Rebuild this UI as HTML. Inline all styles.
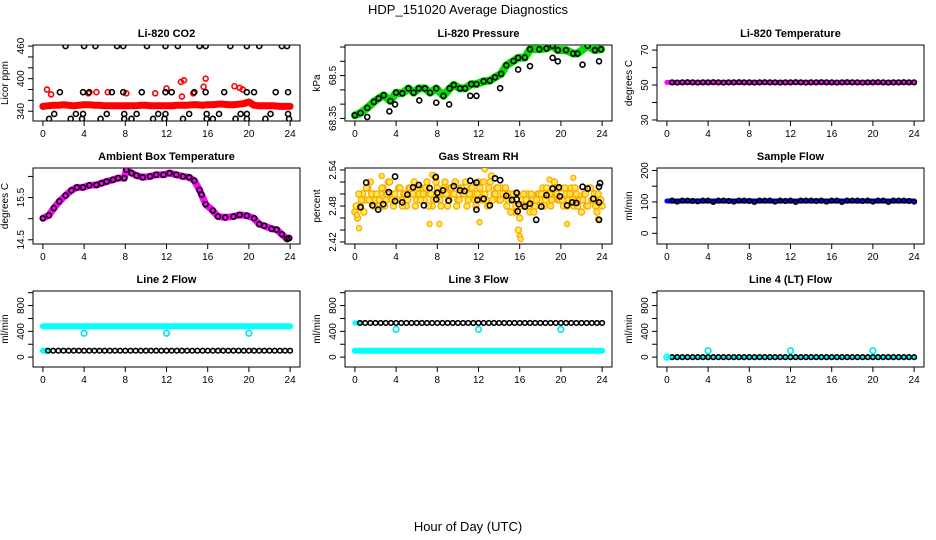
<!DOCTYPE html>
<html><head><meta charset="utf-8"><style>
html,body{margin:0;padding:0;background:#fff;}
svg{display:block;font-family:"Liberation Sans",sans-serif;}
</style></head><body>
<svg id="chart" width="936" height="540" viewBox="0 0 936 540">
<text x="468" y="14" text-anchor="middle" font-size="13">HDP_151020  Average Diagnostics</text>
<text x="468" y="531" text-anchor="middle" font-size="13">Hour of Day (UTC)</text>
</svg>
<script>
// ---------- data ----------
const hourTicks = [0,4,8,12,16,20,24];
// CO2
const co2RedVals = [349,350,351,351,352,351,350,351,352,352,351,351,350,350,350,350,350,350,350,351,351,350,350,350,350,350,351,351,351,352,352,351,352,352,353,353,352,352,353,354,357,351,350,350,350,350,349,349,349];
const co2RedOutHours = [0.4,0.8,4.4,5.2,6.3,8.1,10.9,12.0,13.4,13.7,13.5,14.6,15.8,15.6,18.6,19.1,19.4];
const co2RedOutVals = [380,371,373,375,375,373,373,382,394,397,367,373,400,385,386,383,380];
const co2BlackHours = [2.2,4.0,5.1,7.2,7.8,10.1,11.9,13.1,15.2,15.8,18.2,19.8,21.0,23.2,23.7, 1.65,3.9,4.5,6.7,7.8,9.6,11.9,12.5,14.7,15.8,17.6,19.8,20.5,22.6,23.8, 1.1,3.2,3.9,6.2,7.9,9.1,11.2,11.9,14.2,15.9,17.1,19.2,19.8,22.1,23.8, 0.6,2.7,3.8,5.6,7.9,8.6,10.7,11.8,13.6,15.9,16.5,18.7,19.8,21.6,23.9];
const co2BlackVals = [460,460,460,460,460,460,460,460,460,460,460,460,460,460,460, 375,375,375,375,375,375,375,375,375,375,375,375,375,375,375, 335,335,335,335,335,335,335,335,335,335,335,335,335,335,335, 326,326,326,326,326,326,326,326,326,326,326,326,326,326,326];
// Pressure
const presHours = [0,0.55,1.2,1.84,2.3,2.8,3.45,4.0,4.6,5.2,5.7,6.2,6.8,7.3,7.9,8.6,9.2,9.6,10.2,10.7,11.3,11.8,12.5,13.1,13.6,14.2,14.7,15.4,15.85,16.5,17.0,17.9,18.6,19.2,19.7,20.5,21.2,21.6,22.6,23.3,23.9];
const presVals = [68.361,68.369,68.387,68.408,68.42,68.431,68.411,68.44,68.438,68.455,68.44,68.455,68.455,68.44,68.455,68.429,68.455,68.467,68.455,68.455,68.47,68.47,68.48,68.482,68.494,68.506,68.536,68.551,68.562,68.563,68.592,68.592,68.595,68.604,68.589,68.589,68.577,68.577,68.604,68.589,68.592];
const presOutHours = [1.2,3.35,3.9,6.25,7.9,9.15,11.2,11.8,14.1,15.85,17.0,19.2,19.7,22.1,23.7];
const presOutVals = [68.355,68.375,68.399,68.413,68.405,68.399,68.429,68.429,68.456,68.521,68.533,68.562,68.55,68.538,68.55];
// Li-820 temperature
const tempLineHours = [0,6,12,18,24];
const tempLineVals = [51.5,51.5,51.5,51.5,51.5];
const tempBlackVals = [51.5,51.4,51.5,51.6,51.5,51.4,51.5,51.5,51.6,51.5,51.4,51.5,51.5,51.6,51.5,51.5,51.4,51.5,51.6,51.5,51.5,51.4,51.5,51.5,51.6,51.5,51.4,51.5,51.5,51.6,51.5,51.5,51.4,51.5,51.6,51.5,51.5,51.4,51.5,51.5,51.6,51.5,51.4,51.5,51.5,51.6,51.5,51.5];
// Ambient box temperature
const ambHours = [0,0.58,1.07,1.6,2.2,2.76,3.3,3.9,4.5,5.2,5.7,6.2,6.8,7.3,7.9,8.1,8.6,9.1,9.7,10.4,11.0,11.7,12.3,12.95,13.6,14.2,14.7,15.2,15.4,15.8,16.5,17.0,17.7,18.5,19.1,19.8,20.5,21.0,21.5,22.2,22.7,23.2,23.7,23.9];
const ambVals = [15.01,15.08,15.25,15.41,15.55,15.67,15.74,15.74,15.79,15.8,15.84,15.88,15.92,15.96,15.96,16.16,16.08,16.02,15.98,16.0,16.04,16.04,16.08,16.04,16.0,15.98,15.9,15.68,15.57,15.34,15.19,15.05,15.03,15.05,15.09,15.07,15.01,14.87,14.83,14.76,14.74,14.63,14.52,14.54];
// Gas stream RH
const rhOrangeA = [2.47,2.46,2.48,2.50,2.49,2.51,2.52,2.50,2.49, 2.48,2.50,2.51,2.49,2.52,2.50,2.48,2.49, 2.51,2.49,2.50,2.48,2.51,2.50,2.52,2.49, 2.50,2.51,2.49,2.52,2.50,2.48,2.53,2.51, 2.49,2.50,2.52,2.48,2.51,2.50,2.52,2.49, 2.51,2.50,2.52,2.49,2.51,2.50,2.48,2.52, 2.50,2.52,2.49,2.51,2.53,2.50,2.51,2.49, 2.51,2.50,2.48,2.50,2.49,2.47,2.50,2.46, 2.49,2.48,2.50,2.47,2.49,2.48,2.50,2.49, 2.51,2.49,2.50,2.48,2.51,2.50,2.49,2.51, 2.48,2.50,2.49,2.51,2.48,2.50,2.49,2.47, 2.50,2.48,2.51,2.49,2.50,2.47,2.49,2.48];
const rhOrangeB = [2.48,2.50,2.49,2.47,2.51,2.49,2.50,2.48, 2.50,2.49,2.51,2.48,2.50,2.52,2.49,2.50, 2.49,2.51,2.48,2.50,2.49,2.51,2.50,2.48, 2.51,2.49,2.50,2.51,2.48,2.50,2.49,2.52, 2.50,2.48,2.51,2.50,2.49,2.51,2.50,2.48, 2.49,2.51,2.50,2.48,2.50,2.51,2.49,2.50, 2.51,2.49,2.50,2.48,2.52,2.49,2.50,2.51, 2.49,2.50,2.51,2.49,2.47,2.50,2.48,2.44, 2.48,2.50,2.49,2.48,2.50,2.47,2.49,2.50, 2.50,2.48,2.51,2.50,2.49,2.52,2.50,2.49, 2.49,2.51,2.48,2.50,2.49,2.51,2.48,2.49, 2.49,2.50,2.48,2.51,2.49,2.48,2.50,2.49];
const rhOrangeOutHours = [0.2,0.4,7.25,8.2,12.1,16.0,16.1,18.9,21.2,12.6,7.5,20.6,23.6,2.6];
const rhOrangeOutVals = [2.465,2.443,2.45,2.45,2.453,2.43,2.425,2.524,2.527,2.541,2.532,2.45,2.458,2.53];
const rhBlackHours = [0.55,1.1,1.7,2.26,2.75,3.3,3.9,3.9,4.6,5.1,5.65,6.2,6.7,7.25,7.85,7.9,8.0,8.55,9.1,9.6,10.2,10.65,11.2,11.8,11.8,11.9,12.5,13.1,13.6,14.1,14.7,15.25,15.7,15.7,15.8,15.9,16.5,17.0,17.6,18.1,18.6,19.2,19.8,19.9,20.6,21.1,21.5,22.1,22.6,23.15,23.7,23.8,23.7,23.7];
const rhBlackVals = [2.478,2.519,2.481,2.474,2.483,2.503,2.529,2.488,2.486,2.499,2.511,2.515,2.481,2.51,2.528,2.491,2.502,2.506,2.489,2.513,2.506,2.505,2.522,2.474,2.519,2.49,2.492,2.481,2.526,2.523,2.497,2.49,2.491,2.502,2.471,2.483,2.479,2.484,2.457,2.479,2.498,2.509,2.511,2.496,2.481,2.486,2.485,2.512,2.509,2.492,2.486,2.518,2.512,2.457];
// Sample flow
const sampleLineHours = [0,6,12,18,24];
const sampleLineVals = [103,103,103,103,103];
const sampleBlackVals = [104,101,104,104,103,102,104,104,100,104,104,103,101,104,104,103,100,104,104,104,101,104,103,104,100,104,104,104,103,104,101,104,104,100,104,104,104,103,104,101,104,104,100,104,104,104,103,101];
// Line flows
const line2CyanTop = [480,480,480,480,480];
const line2BlackVals = [100,100,100,100,100,100,100,100,100,100,100,100,100,100,100,100,100,100,100,100,100,100,100,100,100,100,100,100,100,100,100,100,100,100,100,100,100,100,100,100,100,100,100,100,100,100,100,100];
const line3CyanBottom = [100,100,100,100,100];
const line3BlackVals = [530,530,530,530,530,530,530,530,530,530,530,530,530,530,530,530,530,530,530,530,530,530,530,530,530,530,530,530,530,530,530,530,530,530,530,530,530,530,530,530,530,530,530,530,530,530,530,530];
const line4CyanBase = [0,0,0,0,0];
const line4BlackVals = [0,0,0,0,0,0,0,0,0,0,0,0,0,0,0,0,0,0,0,0,0,0,0,0,0,0,0,0,0,0,0,0,0,0,0,0,0,0,0,0,0,0,0,0,0,0,0,0];
const cyanOutHours = [4,12,20];
const line2CyanOut = [370,370,370];
const line3CyanOut = [430,430,430];
const line4CyanOut = [100,100,100];

// ---------- drawing ----------
const svg = document.getElementById('chart');
const NS = 'http://www.w3.org/2000/svg';
function mk(tag, attrs, parent){
  const e = document.createElementNS(NS, tag);
  for (const k in attrs) e.setAttribute(k, attrs[k]);
  (parent||svg).appendChild(e);
  return e;
}
const halfHours = (n)=>{const a=[];for(let i=0;i<n;i++)a.push(0.5+0.5*i);return a;};
const COLS=[33,345,657], ROWS=[45,168,291], W=267, H=76;

function makePanel(col,row,title,ylab,ylim,yticks,ylabels,slug){
  const x0=COLS[col], y0=ROWS[row];
  const g = mk('g',{});
  
  
  const sx = h => x0 + (h+0.96)/25.92*W;
  const sy = v => y0 + H - (v-ylim[0])/(ylim[1]-ylim[0])*H;
  const box = mk('rect',{x:x0,y:y0,width:W,height:H,fill:'none',stroke:'#000','stroke-width':1},g);
  
  
  const t = mk('text',{x:x0+W/2,y:y0-8,'text-anchor':'middle','font-size':11,'font-weight':'bold'},g);
  t.textContent = title;
  
  
  const yl = mk('text',{x:0,y:0,'text-anchor':'middle','font-size':10,transform:`translate(${x0-25},${y0+H/2}) rotate(-90)`},g);
  yl.textContent = ylab;
  
  
  hourTicks.forEach(h=>{
    const x=sx(h);
    mk('line',{x1:x,x2:x,y1:y0+H,y2:y0+H+5,stroke:'#000'},g);
    const tl = mk('text',{x:x,y:y0+H+16,'text-anchor':'middle','font-size':10},g);
    tl.textContent = h;
    
    
  });
  yticks.forEach(v=>{
    const y=sy(v);
    mk('line',{x1:x0-5,x2:x0,y1:y,y2:y,stroke:'#000'},g);
    if (ylabels.includes(v)){
      const tl = mk('text',{x:0,y:0,'text-anchor':'middle','font-size':10,transform:`translate(${x0-9},${y}) rotate(-90)`},g);
      tl.textContent = String(v);
      
      
    }
  });
  const clip = 'clip-'+slug;
  const cp = mk('clipPath',{id:clip},g);
  mk('rect',{x:x0,y:y0,width:W,height:H},cp);
  const data = mk('g',{'clip-path':`url(#${clip})`},g);
  
  
  return {sx,sy,g:data};
}
function line(p,hours,vals,color,w,name){
  const pts = hours.map((h,i)=>p.sx(h)+','+p.sy(vals[i])).join(' ');
  const e = mk('polyline',{points:pts,fill:'none',stroke:color,'stroke-width':w,'stroke-linejoin':'round','stroke-linecap':'round'},p.g);
  
  
}
function pts(p,hours,vals,color,r,name,fill,sw){
  hours.forEach((h,i)=>{
    const c = mk('circle',{cx:p.sx(h),cy:p.sy(vals[i]),r:r,fill:fill||'none',stroke:color,'stroke-width':sw||1.6},p.g);
    
    
  });
}
const stepHours=(n,step,start)=>{const a=[];for(let i=0;i<n;i++)a.push(start+step*i);return a;};

// CO2
let p = makePanel(0,0,'Li-820 CO2','Licor ppm',[322,462],[340,360,380,400,420,440,460],[340,400,460],'co2');
line(p,stepHours(co2RedVals.length,0.5,0),co2RedVals,'#f00',7,'co2-red-band');
pts(p,stepHours(co2RedVals.length,0.5,0),co2RedVals,'#f00',2.5,'co2-red-point');
pts(p,co2RedOutHours,co2RedOutVals,'#f00',2.5,'co2-red-outlier');
pts(p,co2BlackHours,co2BlackVals,'#000',2.5,'co2-black-point');
// Pressure
p = makePanel(1,0,'Li-820 Pressure','kPa',[68.341,68.607],[68.35,68.40,68.45,68.50,68.55,68.60],[68.35,68.50],'pressure');
line(p,presHours,presVals,'#00e000',8,'pressure-green-line');
pts(p,presHours,presVals,'#000',2.5,'pressure-black-point');
pts(p,presOutHours,presOutVals,'#000',2.5,'pressure-black-outlier');
// Li-820 temperature
p = makePanel(2,0,'Li-820 Temperature','degrees C',[29.4,72.9],[30,40,50,60,70],[30,50,70],'li820-temp');
line(p,tempLineHours,tempLineVals,'#f0f',5,'li820-temp-magenta-line');
pts(p,halfHours(tempBlackVals.length),tempBlackVals,'#000',2.3,'li820-temp-black-point');
// Ambient
p = makePanel(0,1,'Ambient Box Temperature','degrees C',[14.4,16.2],[14.5,15.0,15.5,16.0],[14.5,15.5],'ambient-temp');
line(p,ambHours,ambVals,'#f0f',7,'ambient-magenta-line');
pts(p,ambHours,ambVals,'#000',2.5,'ambient-black-point');
// RH
p = makePanel(1,1,'Gas Stream RH','percent',[2.4167,2.5433],[2.42,2.44,2.46,2.48,2.50,2.52,2.54],[2.42,2.48,2.54],'rh');
pts(p,stepHours(rhOrangeA.length,0.25,0),rhOrangeA,'#ffa500',3.1,'rh-orange-point','#ffe94a',1.2);
pts(p,stepHours(rhOrangeB.length,0.25,0.125),rhOrangeB,'#ffa500',3.1,'rh-orange-point','#ffe94a',1.2);
pts(p,rhOrangeOutHours,rhOrangeOutVals,'#ffa500',2.6,'rh-orange-outlier','#ffe94a',1.2);
pts(p,rhBlackHours,rhBlackVals,'#000',2.6,'rh-black-point');
// Sample flow
p = makePanel(2,1,'Sample Flow','ml/min',[-34,208],[0,50,100,150,200],[0,100,200],'sample-flow');
line(p,sampleLineHours,sampleLineVals,'#00f',5,'sample-flow-blue-line');
pts(p,halfHours(sampleBlackVals.length),sampleBlackVals,'#000',2.3,'sample-flow-black-point');
// Line 2
const flowLim=[-153,1026], flowTicks=[0,200,400,600,800,1000], flowLabels=[0,400,800];
p = makePanel(0,2,'Line 2 Flow','ml/min',flowLim,flowTicks,flowLabels,'line2-flow');
line(p,[0,6,12,18,24],line2CyanTop,'#00ffff',6,'line2-cyan-line');
line(p,[0,0.5],[100,100],'#00ffff',6,'line2-cyan-start');
pts(p,halfHours(line2BlackVals.length),line2BlackVals,'#000',2.3,'line2-black-point');
pts(p,cyanOutHours,line2CyanOut,'#00e5e5',2.8,'line2-cyan-outlier');
// Line 3
p = makePanel(1,2,'Line 3 Flow','ml/min',flowLim,flowTicks,flowLabels,'line3-flow');
line(p,[0,6,12,18,24],line3CyanBottom,'#00ffff',6,'line3-cyan-line');
line(p,[0,0.5],[530,530],'#00ffff',5,'line3-cyan-start');
pts(p,halfHours(line3BlackVals.length),line3BlackVals,'#000',2.3,'line3-black-point');
pts(p,cyanOutHours,line3CyanOut,'#00e5e5',2.8,'line3-cyan-outlier');
// Line 4
p = makePanel(2,2,'Line 4 (LT) Flow','ml/min',flowLim,flowTicks,flowLabels,'line4-flow');
line(p,[0,6,12,18,24],line4CyanBase,'#00ffff',3,'line4-cyan-line');
pts(p,halfHours(line4BlackVals.length),line4BlackVals,'#000',2.3,'line4-black-point');
pts(p,[0],[0],'#00ffff',2.8,'line4-cyan-start');
pts(p,cyanOutHours,line4CyanOut,'#00e5e5',2.8,'line4-cyan-outlier');
</script>
</body></html>
